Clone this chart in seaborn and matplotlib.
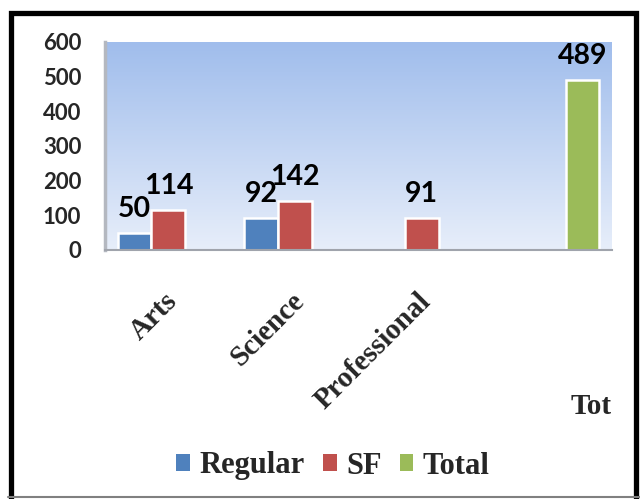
import numpy as np
import pandas as pd
import matplotlib
matplotlib.use("Agg")
import matplotlib.pyplot as plt
import matplotlib.transforms as mtransforms
from matplotlib.patches import Rectangle
from matplotlib.lines import Line2D
import seaborn as sns

categories = ["Arts", "Science", "Professional", "Tot"]
series = ["Regular", "SF", "Total"]
regular = [50, 92, np.nan, np.nan]
sf = [114, 142, 91, np.nan]
total = [np.nan, np.nan, np.nan, 489]
colors = ["#4f81bd", "#c0504d", "#9bbb59"]
yticks = [0, 100, 200, 300, 400, 500, 600]

rows = []
for name, vals in zip(series, [regular, sf, total]):
    for c, v in zip(categories, vals):
        rows.append({"category": c, "series": name, "value": v})
df = pd.DataFrame(rows)

sns.set_theme(style="white")
plt.rcParams["font.family"] = ["Liberation Serif", "DejaVu Serif"]

W, H = 640, 499
fig = plt.figure(figsize=(W / 100, H / 100), dpi=100)
ax = fig.add_axes([105 / W, 1 - 250 / H, (612 - 105) / W, (250 - 42) / H])

# gradient background
grad = np.linspace(0, 1, 256).reshape(-1, 1)
top = np.array([160, 189, 236]) / 255
bot = np.array([231, 238, 250]) / 255
img = top[None, None, :] * (1 - grad[:, :, None]) + bot[None, None, :] * grad[:, :, None]
ax.imshow(img, extent=[0, 1, 0, 1], transform=ax.transAxes, aspect="auto", zorder=0)

sns.barplot(data=df, x="category", y="value", hue="series", order=categories,
            hue_order=series, palette=colors, edgecolor="white", linewidth=1.8,
            saturation=1, ax=ax, zorder=2)

for cont in ax.containers:
    ax.bar_label(cont, fmt="%g", padding=8, fontsize=20.5, fontweight="bold",
                 family="Lato", color="black")

ax.set_ylim(0, 600)
ax.set_xlim(-0.5, 3.5)
ax.set_yticks(yticks)
ax.set_yticklabels([str(t) for t in yticks], family="Lato", fontweight="bold", fontsize=16)
ax.tick_params(axis="y", length=0, pad=17)
ax.tick_params(axis="x", length=0, pad=27)
ax.set_xlabel("")
ax.set_ylabel("")
ax.grid(False)
for s in ["top", "right"]:
    ax.spines[s].set_visible(False)
ax.spines["left"].set_color("#b4b8c0")
ax.spines["left"].set_linewidth(2.5)
ax.spines["bottom"].set_color("#a0a4ac")
ax.spines["bottom"].set_linewidth(1.5)

labels = ax.set_xticklabels(categories, fontsize=21, fontweight="bold")
for lab in labels[:3]:
    lab.set_rotation(45)
    lab.set_ha("right")
    lab.set_va("top")
    lab.set_rotation_mode("anchor")
    lab.set_transform(lab.get_transform() + mtransforms.ScaledTranslation(-0.05, 0, fig.dpi_scale_trans))
last = labels[3]
last.set_rotation(0)
last.set_ha("center")
last.set_va("top")
last.set_transform(last.get_transform() + mtransforms.ScaledTranslation(0.42, -1.06, fig.dpi_scale_trans))

leg = ax.get_legend()
if leg is not None:
    leg.remove()
handles = [Rectangle((0, 0), 1, 1, facecolor=c, edgecolor="none") for c in colors]
fig.legend(handles, series, loc="center", bbox_to_anchor=(333 / W, 1 - 466 / H),
           ncol=3, frameon=False, prop={"family": "Liberation Serif", "weight": "bold", "size": 22},
           handlelength=0.45, handleheight=0.45, handletextpad=0.3, columnspacing=0.6,
           borderpad=0.1)

# chart border
fig.add_artist(Rectangle((10.5 / W, -0.05), (636 - 10.5) / W, (H - 12.5) / H + 0.05,
                         transform=fig.transFigure, fill=False, edgecolor="black", linewidth=3.8))
fig.add_artist(Line2D([8 / W, 1], [2 / H, 2 / H], transform=fig.transFigure,
                      color="#808080", linewidth=1.5))

fig.savefig("out.png", dpi=100, facecolor="white")
